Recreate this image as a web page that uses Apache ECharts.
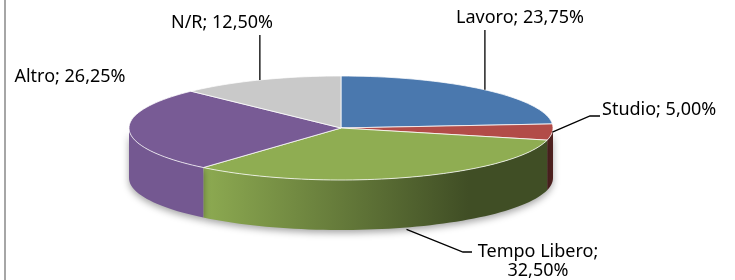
<!DOCTYPE html>
<html>
<head>
<meta charset="utf-8">
<script src="https://cdn.jsdelivr.net/npm/echarts@6/dist/echarts.min.js"></script>
<style>
  html, body { margin: 0; padding: 0; background: #fff; }
  #main { width: 735px; height: 280px; }
</style>
</head>
<body>
<div id="main"></div>
<script>
// dati della torta (percentuali)
var names = ['Lavoro', 'Studio', 'Tempo Libero', 'Altro', 'N/R'];
var values = [23.75, 5.00, 32.50, 26.25, 12.50];
var colors = ['#4a78ae', '#b24c48', '#8fad52', '#785b95', '#c9c9c9'];

// geometria della torta 3D
var cx = 341, cy = 128, rx = 212, ry = 52, depth = 50;

// posizione etichette e linee guida (null = x del punto di ancoraggio)
var labelLayout = [
    { x: 520, y: 18, align: 'center', anchor: 'top', leader: [[null, 30]] },
    { x: 602, y: 110, align: 'left', anchor: 'top', leader: [[590, 116], [600, 116]] },
    { x: 538, y: 261, align: 'center', anchor: 'bottom', leader: [[463, 252], [472, 252]] },
    { x: 70, y: 77, align: 'center', anchor: 'top', leader: [] },
    { x: 222, y: 23, align: 'center', anchor: 'top', leader: [[null, 35]] }
];

var total = values.reduce(function (a, b) { return a + b }, 0);
var starts = [], acc = 0;
for (var i = 0; i < values.length; i++) {
    starts.push(acc / total * 360);
    acc += values[i];
}

function fmt(v) {
    return v.toFixed(2).replace('.', ',') + '%';
}

function pt(deg, dy) {
    var t = deg * Math.PI / 180;
    return [cx + rx * Math.sin(t), cy - ry * Math.cos(t) + (dy || 0)];
}

function arc(a, b, dy) {
    var pts = [], n = Math.max(2, Math.ceil((b - a) / 2));
    for (var k = 0; k <= n; k++) pts.push(pt(a + (b - a) * k / n, dy));
    return pts;
}

function shade(hex, f) {
    var n = parseInt(hex.slice(1), 16);
    var r = Math.round(((n >> 16) & 255) * f),
        g = Math.round(((n >> 8) & 255) * f),
        b = Math.round((n & 255) * f);
    return 'rgb(' + r + ',' + g + ',' + b + ')';
}

function renderItem(params, api) {
    var i = params.dataIndex;
    var a0 = starts[i], a1 = a0 + api.value(0) / total * 360;
    var col = colors[i];
    var children = [];

    // parete esterna (solo la parte frontale, 90°-270°)
    var s = Math.max(a0, 90), e = Math.min(a1, 270);
    if (e > s) {
        var wall = arc(s, e, 0).concat(arc(s, e, depth).reverse());
        children.push({
            type: 'polygon',
            z2: 1,
            shape: { points: wall },
            style: {
                fill: {
                    type: 'linear', global: true,
                    x: cx - rx * 0.62, y: 0, x2: cx + rx * 0.6, y2: 0,
                    colorStops: [
                        { offset: 0, color: shade(col, 0.97) },
                        { offset: 1, color: shade(col, 0.45) }
                    ]
                },
                shadowBlur: 7,
                shadowColor: 'rgba(0,0,0,0.35)',
                shadowOffsetY: 3
            }
        });
    }

    // faccia superiore
    children.push({
        type: 'polygon',
        z2: 2,
        shape: { points: [[cx, cy]].concat(arc(a0, a1, 0)) },
        style: { fill: col, stroke: 'rgba(255,255,255,0.75)', lineWidth: 1 }
    });

    // etichetta e linea guida
    var lay = labelLayout[i];
    var mid = (a0 + a1) / 2;
    var anc = pt(mid, lay.anchor === 'bottom' ? depth + 2 : 0);
    if (lay.leader.length) {
        var lp = [anc].concat(lay.leader.map(function (p) {
            return [p[0] === null ? anc[0] : p[0], p[1]];
        }));
        children.push({
            type: 'polyline',
            z2: 3,
            shape: { points: lp },
            style: { stroke: '#000', lineWidth: 1.3, fill: null }
        });
    }
    var txt = names[i] + '; ' + fmt(api.value(0));
    if (names[i] === 'Tempo Libero') txt = names[i] + ';\n' + fmt(api.value(0));
    children.push({
        type: 'text',
        z2: 3,
        x: lay.x,
        y: lay.y,
        style: {
            text: txt,
            align: lay.align,
            verticalAlign: 'middle',
            fill: '#000',
            font: '18px "Noto Sans"',
            lineHeight: 19
        }
    });

    return { type: 'group', children: children };
}

var myChart = echarts.init(document.getElementById('main'));
myChart.setOption({
    animation: false,
    backgroundColor: '#fff',
    graphic: [{
        type: 'rect',
        left: 4, top: 0,
        shape: { width: 2, height: 280 },
        style: { fill: '#a6a6a6' }
    }],
    series: [{
        type: 'custom',
        coordinateSystem: 'none',
        renderItem: renderItem,
        data: values.map(function (v, i) { return { name: names[i], value: [v] } })
    }]
});
</script>
</body>
</html>
